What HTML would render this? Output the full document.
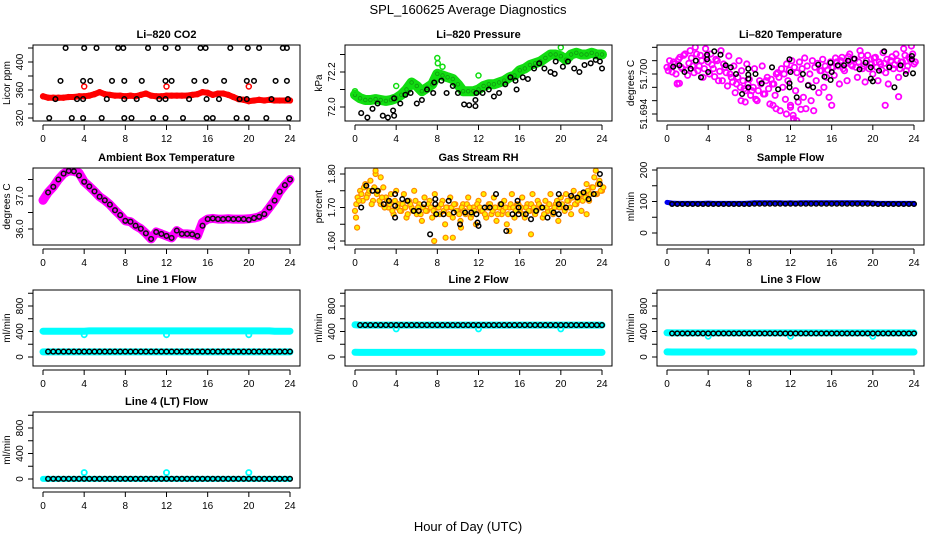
<!DOCTYPE html>
<html><head><meta charset="utf-8"><style>
html,body{margin:0;padding:0;background:#fff}
svg{display:block;font-family:"Liberation Sans",Arial,sans-serif}
</style></head><body>
<svg id="chart" width="936" height="540" viewBox="0 0 936 540" xmlns="http://www.w3.org/2000/svg">
<text x="468" y="14" font-size="13" text-anchor="middle">SPL_160625  Average Diagnostics</text>
<text x="468" y="531" font-size="13" text-anchor="middle">Hour of Day (UTC)</text>
</svg>
<script>
// ---------- data ----------
const xTicks=[0,4,8,12,16,20,24];
const halfHours=[0,0.5,1,1.5,2,2.5,3,3.5,4,4.5,5,5.5,6,6.5,7,7.5,8,8.5,9,9.5,10,10.5,11,11.5,12,12.5,13,13.5,14,14.5,15,15.5,16,16.5,17,17.5,18,18.5,19,19.5,20,20.5,21,21.5,22,22.5,23,23.5,24];
const quarterHours=[0,0.25,0.5,0.75,1,1.25,1.5,1.75,2,2.25,2.5,2.75,3,3.25,3.5,3.75,4,4.25,4.5,4.75,5,5.25,5.5,5.75,6,6.25,6.5,6.75,7,7.25,7.5,7.75,8,8.25,8.5,8.75,9,9.25,9.5,9.75,10,10.25,10.5,10.75,11,11.25,11.5,11.75,12,12.25,12.5,12.75,13,13.25,13.5,13.75,14,14.25,14.5,14.75,15,15.25,15.5,15.75,16,16.25,16.5,16.75,17,17.25,17.5,17.75,18,18.25,18.5,18.75,19,19.25,19.5,19.75,20,20.25,20.5,20.75,21,21.25,21.5,21.75,22,22.25,22.5,22.75,23,23.25,23.5,23.75,24];
const blackHours=[0.5,1,1.5,2,2.5,3,3.5,4,4.5,5,5.5,6,6.5,7,7.5,8,8.5,9,9.5,10,10.5,11,11.5,12,12.5,13,13.5,14,14.5,15,15.5,16,16.5,17,17.5,18,18.5,19,19.5,20,20.5,21,21.5,22,22.5,23,23.5,24];
const spikeHours=[4,12,20];

// CO2
const co2Red=[351,349,349,349,349,350,350,351,351,352,354,357,354,353,352,352,351,352,351,353,355,352,351,351,352,352,352,352,352,353,354,357,356,353,355,355,353,350,347,346,344,345,346,345,346,345,345,345,345];
const co2RedSpikes=[365,365,365];
const co2BlackT=[2.2,4.0,5.2,7.3,7.8,10.2,11.9,13.1,15.3,15.8,18.2,19.9,21.0,23.3,23.7,1.7,3.9,4.6,6.7,7.9,9.6,11.9,12.5,14.7,15.8,17.6,19.8,20.5,22.6,23.7,1.2,3.3,3.9,6.2,7.9,9.1,11.3,11.9,14.2,15.9,17.1,19.1,19.8,22.2,23.8,0.6,2.8,3.9,5.7,7.9,8.6,10.7,11.9,13.6,15.9,16.5,18.8,19.8,21.7,23.9];
const co2BlackV=[420,420,420,420,420,420,420,420,420,420,420,420,420,420,420,373,373,373,373,373,373,373,373,373,373,373,373,373,373,373,347,347,347,347,347,347,347,347,347,347,347,347,347,347,347,320,320,320,320,320,320,320,320,320,320,320,320,320,320,320];

// Pressure
const presGreen=[72.07,72.05,72.04,72.04,72.045,72.04,72.035,72.04,72.05,72.07,72.10,72.14,72.12,72.09,72.11,72.13,72.19,72.18,72.17,72.16,72.13,72.09,72.09,72.09,72.10,72.12,72.13,72.13,72.14,72.15,72.17,72.18,72.21,72.22,72.24,72.25,72.26,72.28,72.30,72.30,72.29,72.27,72.30,72.31,72.30,72.30,72.31,72.30,72.30];
const presGreenOutT=[0,4,8,8.05,8.5,12,20];
const presGreenOutV=[72.09,72.12,72.28,72.25,72.23,72.18,72.34];
const presBlackT=[0.6,1.2,1.7,2.2,2.7,3.2,3.7,3.8,3.8,4.4,4.9,5.4,6.0,6.5,7.0,7.6,7.7,8.4,8.9,9.5,10.0,10.6,11.1,11.7,11.7,11.8,12.4,13.0,13.5,14.0,14.6,15.1,15.6,15.7,16.3,16.8,17.4,17.9,18.4,19.0,19.4,19.5,20.2,20.7,21.3,21.8,22.3,22.9,23.4,23.8,24.0];
const presBlackV=[71.965,71.94,71.99,72.02,71.95,71.94,71.98,71.95,72.05,72.02,72.07,72.08,72.02,72.04,72.10,72.08,72.14,72.15,72.08,72.12,72.08,72.015,72.01,72.005,72.04,72.08,72.08,72.10,72.06,72.08,72.13,72.17,72.15,72.10,72.17,72.16,72.22,72.25,72.22,72.20,72.19,72.26,72.23,72.26,72.22,72.20,72.24,72.25,72.27,72.26,72.22];

// Li-820 temperature
const tempMag=[51.7010,51.7020,51.7003,51.7015,51.6985,51.7025,51.7008,51.7030,51.6998,
51.7035,51.7012,51.7040,51.7005,51.7028,51.6995,51.7038,51.7018,
51.7030,51.7008,51.7022,51.6990,51.7035,51.7015,51.7002,51.7027,
51.6995,51.7012,51.6985,51.7020,51.7005,51.6978,51.7015,51.6992,
51.6975,51.7008,51.6960,51.6990,51.7012,51.6970,51.6995,51.6955,
51.6985,51.6968,51.7002,51.6945,51.6980,51.6962,51.6990,51.6950,
51.6938,51.6975,51.6958,51.6992,51.6965,51.6948,51.6983,51.6960,
51.6945,51.6990,51.6972,51.7005,51.6980,51.6995,51.6965,51.7010,
51.6998,51.7018,51.6985,51.7025,51.7005,51.6990,51.7030,51.7012,
51.7022,51.6995,51.7035,51.7008,51.6988,51.7028,51.7015,51.7000,
51.7025,51.6990,51.7015,51.7032,51.7002,51.6985,51.7020,51.7008,
51.7030,51.6995,51.7018,51.7038,51.7005,51.7025,51.7042,51.7015];
const tempMag2=[51.7005,51.7012,51.7018,51.7000,51.7022,51.7010,51.7028,51.7006,51.7016,51.7024,51.7002,51.7030,51.7012,51.7020,51.7008,51.7026,51.7000,51.7014,51.6996,51.7020,51.7004,51.6990,51.7010,51.6982,51.7000,51.6988,51.6972,51.6995,51.6980,51.6990,51.6975,51.6985,51.6968,51.6980,51.6962,51.6975,51.6985,51.6970,51.6990,51.6978,51.6992,51.6985,51.7000,51.6995,51.7008,51.7000,51.7015,51.7006,51.7020,51.7010,51.7002,51.7018,51.7008,51.7024,51.7012,51.7000,51.7020,51.7010,51.7016,51.7005,51.7022,51.7012,51.7006,51.7018,51.7010,51.7024,51.7012,51.7020,51.7008,51.7016,51.7026,51.7014,51.7022,51.7010,51.7018,51.7028,51.7012,51.7020,51.7008,51.7015,51.7024,51.7010,51.7018,51.7006,51.7016,51.7022,51.7012,51.7026,51.7014,51.7020,51.7008,51.7018,51.7028,51.7012,51.7022,51.7030,51.7018];
const tempMagOutT=[1.0,1.2,7.2,7.6,10.3,10.6,11.6,12.0,12.3,12.6,13.0,16.0,21.2,22.5];
const tempMagOutV=[51.6986,51.6986,51.6960,51.6958,51.6953,51.6948,51.6940,51.6953,51.6933,51.6930,51.6947,51.6953,51.6953,51.6966];
const tempBlackT=[0.6,1.2,1.7,2.3,2.8,3.3,3.9,3.9,4.0,4.6,5.2,5.7,6.2,6.7,7.3,7.9,7.9,7.9,7.9,8.6,9.2,10.2,10.8,11.9,11.9,12.0,11.9,12.6,13.2,13.7,14.2,14.7,15.3,15.9,15.9,16.0,16.6,17.2,17.6,18.2,18.7,19.3,19.8,19.8,20.0,20.6,21.1,21.6,22.1,22.7,23.2,23.8,23.8,23.9];
const tempBlackV=[51.7011,51.7013,51.7003,51.7008,51.7020,51.6995,51.7029,51.7022,51.7003,51.7034,51.7029,51.7013,51.7010,51.7000,51.6970,51.7008,51.6999,51.6993,51.6980,51.7000,51.6986,51.7010,51.6977,51.7022,51.6986,51.7003,51.6980,51.6965,51.7000,51.6983,51.6980,51.7014,51.6996,51.6991,51.7017,51.7003,51.7013,51.7013,51.7020,51.7023,51.7007,51.7017,51.7010,51.6993,51.6989,51.7005,51.7034,51.7010,51.6980,51.7013,51.7000,51.7027,51.7022,51.7001];

// Ambient box temperature
const ambMag=[36.87,37.11,37.28,37.50,37.68,37.76,37.75,37.70,37.43,37.29,37.14,36.98,36.87,36.74,36.57,36.42,36.25,36.22,36.10,36.01,35.87,35.70,35.91,35.85,35.79,35.73,35.95,35.85,35.85,35.84,35.79,36.20,36.30,36.32,36.30,36.30,36.31,36.30,36.30,36.30,36.31,36.33,36.37,36.45,36.65,36.86,37.13,37.33,37.50];
const ambBlack=[37.11,37.28,37.50,37.68,37.76,37.75,37.62,37.43,37.29,37.14,36.98,36.87,36.74,36.57,36.42,36.25,36.22,36.10,36.01,35.87,35.70,35.91,35.85,35.79,35.73,35.95,35.85,35.85,35.84,35.79,36.10,36.30,36.32,36.30,36.30,36.31,36.30,36.30,36.30,36.28,36.33,36.37,36.45,36.65,36.86,37.13,37.33,37.50];

// Gas stream RH
const rhOrange=[1.69,1.73,1.75,1.72,1.77,1.74,1.78,1.72,1.80,
1.75,1.71,1.76,1.73,1.70,1.74,1.68,1.75,
1.71,1.69,1.74,1.67,1.72,1.70,1.75,1.68,
1.71,1.66,1.73,1.69,1.72,1.67,1.74,1.70,
1.68,1.72,1.65,1.70,1.73,1.67,1.71,1.69,
1.66,1.71,1.68,1.73,1.67,1.70,1.65,1.72,
1.69,1.74,1.67,1.71,1.68,1.73,1.66,1.70,
1.68,1.72,1.65,1.70,1.74,1.67,1.71,1.69,
1.73,1.67,1.71,1.69,1.74,1.68,1.72,1.70,
1.67,1.72,1.69,1.74,1.68,1.71,1.66,1.73,
1.70,1.74,1.72,1.68,1.75,1.71,1.73,1.69,
1.74,1.77,1.72,1.76,1.79,1.74,1.78,1.75];
const rhOrange2=[1.71,1.72,1.74,1.76,1.73,1.75,1.71,1.76,1.74,1.72,1.73,1.70,1.72,1.71,1.69,1.72,1.70,1.69,1.71,1.70,1.68,1.71,1.69,1.72,1.70,1.68,1.70,1.69,1.71,1.70,1.69,1.68,1.70,1.71,1.69,1.70,1.68,1.70,1.71,1.69,1.68,1.70,1.69,1.71,1.70,1.68,1.69,1.71,1.70,1.69,1.68,1.70,1.71,1.69,1.70,1.68,1.71,1.69,1.70,1.68,1.71,1.70,1.69,1.71,1.70,1.68,1.70,1.69,1.71,1.70,1.69,1.71,1.70,1.68,1.70,1.71,1.69,1.70,1.72,1.70,1.71,1.69,1.72,1.70,1.73,1.71,1.72,1.74,1.72,1.73,1.75,1.74,1.76,1.74,1.77,1.75,1.76];
const rhOrangeOutT=[0.1,0.2,2.0,2.5,7.7,8.8,9.5,10.3,15.0,17.1,22.5,23.4];
const rhOrangeOutV=[1.67,1.64,1.81,1.79,1.60,1.61,1.61,1.64,1.63,1.62,1.68,1.81];
const rhBlackT=[0.6,1.1,1.7,2.2,2.8,3.3,3.9,3.9,3.9,4.6,5.1,5.7,6.2,6.7,7.3,7.8,7.8,7.9,8.6,9.1,9.6,10.2,10.7,11.3,11.8,11.9,12.0,12.6,13.1,13.7,14.2,14.7,15.3,15.8,15.9,15.9,16.6,17.1,17.6,18.2,18.7,19.3,19.8,19.8,19.8,20.5,21.0,21.6,22.2,22.7,23.2,23.8,23.8];
const rhBlackV=[1.70,1.765,1.75,1.75,1.71,1.72,1.74,1.705,1.67,1.725,1.72,1.69,1.69,1.71,1.62,1.725,1.71,1.68,1.68,1.72,1.685,1.65,1.685,1.685,1.68,1.655,1.645,1.70,1.70,1.74,1.71,1.63,1.68,1.72,1.70,1.68,1.68,1.665,1.69,1.70,1.67,1.685,1.74,1.71,1.68,1.70,1.735,1.73,1.745,1.725,1.74,1.77,1.80];

// Sample flow
const sampleBlue=[97,95,94,94,94,94,94,94,95,94,94,94,94,94,94,94,95,96,96,96,96,96,96,95,96,95,96,96,96,96,96,96,96,96,96,96,96,96,96,96,95,94,94,94,94,94,94,94,94];
const sampleBlack=[92,92,92,92,92,92,92,92,92,92,92,92,92,92,92,92,93,93,93,93,93,93,93,93,93,93,93,93,93,93,93,93,93,93,93,93,93,93,93,93,92,92,92,92,92,92,92,92];

// Line flows
const line1CyanHigh=[405,405,405,405,405,405,405,405,405,410,410,410,410,410,410,410,410,410,410,410,410,410,410,410,410,410,410,410,410,410,410,410,410,410,410,410,410,410,410,410,410,410,410,410,410,405,405,405,405];
const line1CyanLow=[80,80,80,80,80,80,80,80,80,80,80,80,80,80,80,80,80,80,80,80,80,80,80,80,80,80,80,80,80,80,80,80,80,80,80,80,80,80,80,80,80,80,80,80,80,80,80,80,80];
const line1CyanSpikes=[350,350,350];
const line1Black=[85,85,85,85,85,85,85,85,85,85,85,85,85,85,85,85,85,85,85,85,85,85,85,85,85,85,85,85,85,85,85,85,85,85,85,85,85,85,85,85,85,85,85,85,85,85,85,85];
const line2CyanHigh=[505,500,500,500,500,500,500,500,500,500,500,500,500,500,500,500,500,500,500,500,500,500,500,500,500,500,500,500,500,500,500,500,500,500,500,500,500,500,500,500,500,500,500,500,500,500,500,500,500];
const line2CyanLow=[75,72,72,72,72,72,72,72,72,72,72,72,72,72,72,72,72,72,72,72,72,72,72,72,72,72,72,72,72,72,72,72,72,72,72,72,72,72,72,72,72,72,72,72,72,72,72,72,72];
const line2CyanSpikes=[440,440,440];
const line2Black=[500,500,500,500,500,500,500,500,500,500,500,500,500,500,500,500,500,500,500,500,500,500,500,500,500,500,500,500,500,500,500,500,500,500,500,500,500,500,500,500,500,500,500,500,500,500,500,500];
const line3CyanHigh=[380,378,378,378,378,378,378,378,378,378,378,378,378,378,378,378,378,378,378,378,378,378,378,378,378,378,378,378,378,378,378,378,378,378,378,378,378,378,378,378,378,378,378,378,378,378,378,378,378];
const line3CyanLow=[80,78,78,78,78,78,78,78,78,78,78,78,78,78,78,78,78,78,78,78,78,78,78,78,78,78,78,78,78,78,78,78,78,78,78,78,78,78,78,78,78,78,78,78,78,78,78,78,78];
const line3CyanSpikes=[325,325,325];
const line3Black=[370,370,370,370,370,370,370,370,370,370,370,370,370,370,370,370,370,370,370,370,370,370,370,370,370,370,370,370,370,370,370,370,370,370,370,370,370,370,370,370,370,370,370,370,370,370,370,370];
const line4Cyan=[2,2,2,2,2,2,2,2,2,2,2,2,2,2,2,2,2,2,2,2,2,2,2,2,2,2,2,2,2,2,2,2,2,2,2,2,2,2,2,2,2,2,2,2,2,2,2,2,2];
const line4CyanSpikes=[100,100,100];
const line4Black=[3,3,3,3,3,3,3,3,3,3,3,3,3,3,3,3,3,3,3,3,3,3,3,3,3,3,3,3,3,3,3,3,3,3,3,3,3,3,3,3,3,3,3,3,3,3,3,3];

// ---------- drawing ----------
const svg=document.getElementById('chart');
const NS='http://www.w3.org/2000/svg';
function mk(tag,attrs){const e=document.createElementNS(NS,tag);for(const k in attrs)e.setAttribute(k,attrs[k]);return e;}
const ROWS=[[45,121],[168,245],[290,366],[412,488]];
const COLOFF=[0,312,624];
const QOFF=quarterHours.map(t=>t+0.125);

function makePanel(name,title,row,col,v0,p0,v1,p1,yTicks,yLabels,yTitle){
  const off=COLOFF[col];const [top,bot]=ROWS[row];
  const g=mk('g',{});
  
  
  svg.appendChild(g);
  const P={g,off,top,bot,
    x:t=>43+off+t*247/24,
    y:v=>p0+(v-v0)*(p1-p0)/(v1-v0)};
  const clip=mk('clipPath',{id:'clip-'+name});
  clip.appendChild(mk('rect',{x:33+off,y:top,width:267,height:bot-top}));
  svg.appendChild(clip);
  P.plot=mk('g',{'clip-path':'url(#clip-'+name+')'});
  
  
  g.appendChild(P.plot);
  const box=mk('rect',{x:33+off,y:top,width:267,height:bot-top,fill:'none',stroke:'#000','stroke-width':1});
  
  
  g.appendChild(box);
  const tt=mk('text',{x:166.5+off,y:top-7,'font-size':11,'font-weight':'bold','text-anchor':'middle'});
  tt.textContent=title;
  
  
  g.appendChild(tt);
  const ay=bot+4;
  const xl=mk('line',{x1:P.x(xTicks[0]),x2:P.x(xTicks[xTicks.length-1]),y1:ay,y2:ay,stroke:'#000'});
  
  
  g.appendChild(xl);
  xTicks.forEach(t=>{
    g.appendChild(mk('line',{x1:P.x(t),x2:P.x(t),y1:ay,y2:ay+5,stroke:'#000'}));
    const lb=mk('text',{x:P.x(t),y:ay+17,'font-size':10,'text-anchor':'middle'});
    lb.textContent=t;
    
    
    g.appendChild(lb);
  });
  const ax=33+off;
  const yl=mk('line',{x1:ax,x2:ax,y1:P.y(yTicks[0]),y2:P.y(yTicks[yTicks.length-1]),stroke:'#000'});
  
  
  g.appendChild(yl);
  yTicks.forEach(v=>g.appendChild(mk('line',{x1:ax-5,x2:ax,y1:P.y(v),y2:P.y(v),stroke:'#000'})));
  yLabels.forEach(l=>{
    const yy=P.y(parseFloat(l));
    const lb=mk('text',{x:ax-10,y:yy,'font-size':10,'text-anchor':'middle',transform:'rotate(-90 '+(ax-10)+' '+yy+')'});
    lb.textContent=l;
    
    
    g.appendChild(lb);
  });
  const ymid=(top+bot)/2;
  const yt=mk('text',{x:ax-23,y:ymid,'font-size':10,'text-anchor':'middle',transform:'rotate(-90 '+(ax-23)+' '+ymid+')'});
  yt.textContent=yTitle;
  
  
  g.appendChild(yt);
  return P;
}
function band(P,ts,vs,color,w,name){
  const pts=ts.map((t,i)=>P.x(t).toFixed(1)+','+P.y(vs[i]).toFixed(1)).join(' ');
  const pl=mk('polyline',{points:pts,fill:'none',stroke:color,'stroke-width':w,'stroke-linejoin':'round','stroke-linecap':'round'});
  
  
  P.plot.appendChild(pl);
}
function dots(P,ts,vs,stroke,fill,r,sw,name){
  ts.forEach((t,i)=>{
    const c=mk('circle',{cx:P.x(t).toFixed(1),cy:P.y(vs[i]).toFixed(1),r:r,stroke:stroke,fill:fill,'stroke-width':sw});
    
    
    P.plot.appendChild(c);
  });
}
const BR=2.3, BW=1.5;

// CO2
let P=makePanel('co2-panel','Li\u2013820 CO2',0,0,320,118,400,62,[320,340,360,380,400,420],['320','360','400'],'Licor ppm');
band(P,halfHours,co2Red,'#ff0000',6,'co2-red-series');
dots(P,halfHours,co2Red,'#ff0000','none',2.4,1.5,'co2-red-point');
dots(P,spikeHours,co2RedSpikes,'#ff0000','none',2.5,1.5,'co2-red-spike');
dots(P,co2BlackT,co2BlackV,'#000','none',BR,BW,'co2-black-point');

// Pressure
P=makePanel('pressure-panel','Li\u2013820 Pressure',0,1,72.0,107,72.2,72,[72.0,72.1,72.2,72.3],['72.0','72.2'],'kPa');
band(P,halfHours,presGreen,'#11dd11',10,'pressure-green-series');
dots(P,halfHours,presGreen,'#119911','none',1.8,0.8,'pressure-green-point');
dots(P,presGreenOutT,presGreenOutV,'#11dd11','none',2.5,1.5,'pressure-green-outlier');
dots(P,presBlackT,presBlackV,'#000','none',BR,BW,'pressure-black-point');

// Temperature
P=makePanel('licor-temperature-panel','Li\u2013820 Temperature',0,2,51.700,74,51.694,114,[51.694,51.696,51.698,51.700,51.702,51.704],['51.694','51.700'],'degrees C');
dots(P,quarterHours,tempMag,'#ff00ff','none',2.7,1.8,'temperature-magenta-point');
dots(P,QOFF,tempMag2,'#ff00ff','none',2.7,1.8,'temperature-magenta-point');
dots(P,tempMagOutT,tempMagOutV,'#ff00ff','none',2.7,1.8,'temperature-magenta-outlier');
dots(P,tempBlackT,tempBlackV,'#000','none',BR,BW,'temperature-black-point');

// Ambient
P=makePanel('ambient-temperature-panel','Ambient Box Temperature',1,0,36.0,229,37.0,196,[36.0,36.5,37.0,37.5],['36.0','37.0'],'degrees C');
band(P,halfHours,ambMag,'#ff00ff',9,'ambient-magenta-series');
dots(P,blackHours,ambBlack,'#111','none',BR,BW,'ambient-black-point');

// RH
P=makePanel('gas-rh-panel','Gas Stream RH',1,1,1.60,241,1.80,174,[1.60,1.65,1.70,1.75,1.80],['1.60','1.70','1.80'],'percent');
dots(P,quarterHours,rhOrange,'#ff8800','#ffee00',2.5,1.2,'rh-orange-point');
dots(P,QOFF,rhOrange2,'#ff8800','#ffee00',2.5,1.2,'rh-orange-point');
dots(P,rhOrangeOutT,rhOrangeOutV,'#ff8800','#ffee00',2.5,1.2,'rh-orange-outlier');
dots(P,rhBlackT,rhBlackV,'#000','none',BR,BW,'rh-black-point');

// Sample flow
P=makePanel('sample-flow-panel','Sample Flow',1,2,0,233,200,170,[0,50,100,150,200],['0','100','200'],'ml/min');
band(P,halfHours,sampleBlue,'#0000ee',5,'sample-blue-series');
dots(P,blackHours,sampleBlack,'#000','none',BR,BW,'sample-black-point');

// Line 1
const flowTicks=[0,200,400,600,800,1000];const flowLabels=['0','400','800'];
P=makePanel('line1-flow-panel','Line 1 Flow',2,0,0,357,800,306,flowTicks,flowLabels,'ml/min');
band(P,halfHours,line1CyanHigh,'#00ffff',7,'line1-cyan-high-series');
band(P,halfHours,line1CyanLow,'#00ffff',7,'line1-cyan-low-series');
dots(P,spikeHours,line1CyanSpikes,'#00ffff','none',2.6,1.8,'line1-cyan-spike');
dots(P,blackHours,line1Black,'#000','none',BR,BW,'line1-black-point');

// Line 2
P=makePanel('line2-flow-panel','Line 2 Flow',2,1,0,357,800,306,flowTicks,flowLabels,'ml/min');
band(P,halfHours,line2CyanHigh,'#00ffff',7,'line2-cyan-high-series');
band(P,halfHours,line2CyanLow,'#00ffff',7,'line2-cyan-low-series');
dots(P,spikeHours,line2CyanSpikes,'#00ffff','none',2.6,1.8,'line2-cyan-spike');
dots(P,blackHours,line2Black,'#000','none',BR,BW,'line2-black-point');

// Line 3
P=makePanel('line3-flow-panel','Line 3 Flow',2,2,0,357,800,306,flowTicks,flowLabels,'ml/min');
band(P,halfHours,line3CyanHigh,'#00ffff',7,'line3-cyan-high-series');
band(P,halfHours,line3CyanLow,'#00ffff',7,'line3-cyan-low-series');
dots(P,spikeHours,line3CyanSpikes,'#00ffff','none',2.6,1.8,'line3-cyan-spike');
dots(P,blackHours,line3Black,'#000','none',BR,BW,'line3-black-point');

// Line 4
P=makePanel('line4-flow-panel','Line 4 (LT) Flow',3,0,0,479,800,428,flowTicks,flowLabels,'ml/min');
band(P,halfHours,line4Cyan,'#00ffff',6,'line4-cyan-series');
dots(P,spikeHours,line4CyanSpikes,'#00ffff','none',2.6,1.8,'line4-cyan-spike');
dots(P,blackHours,line4Black,'#000','none',BR,BW,'line4-black-point');
</script>
</body></html>
